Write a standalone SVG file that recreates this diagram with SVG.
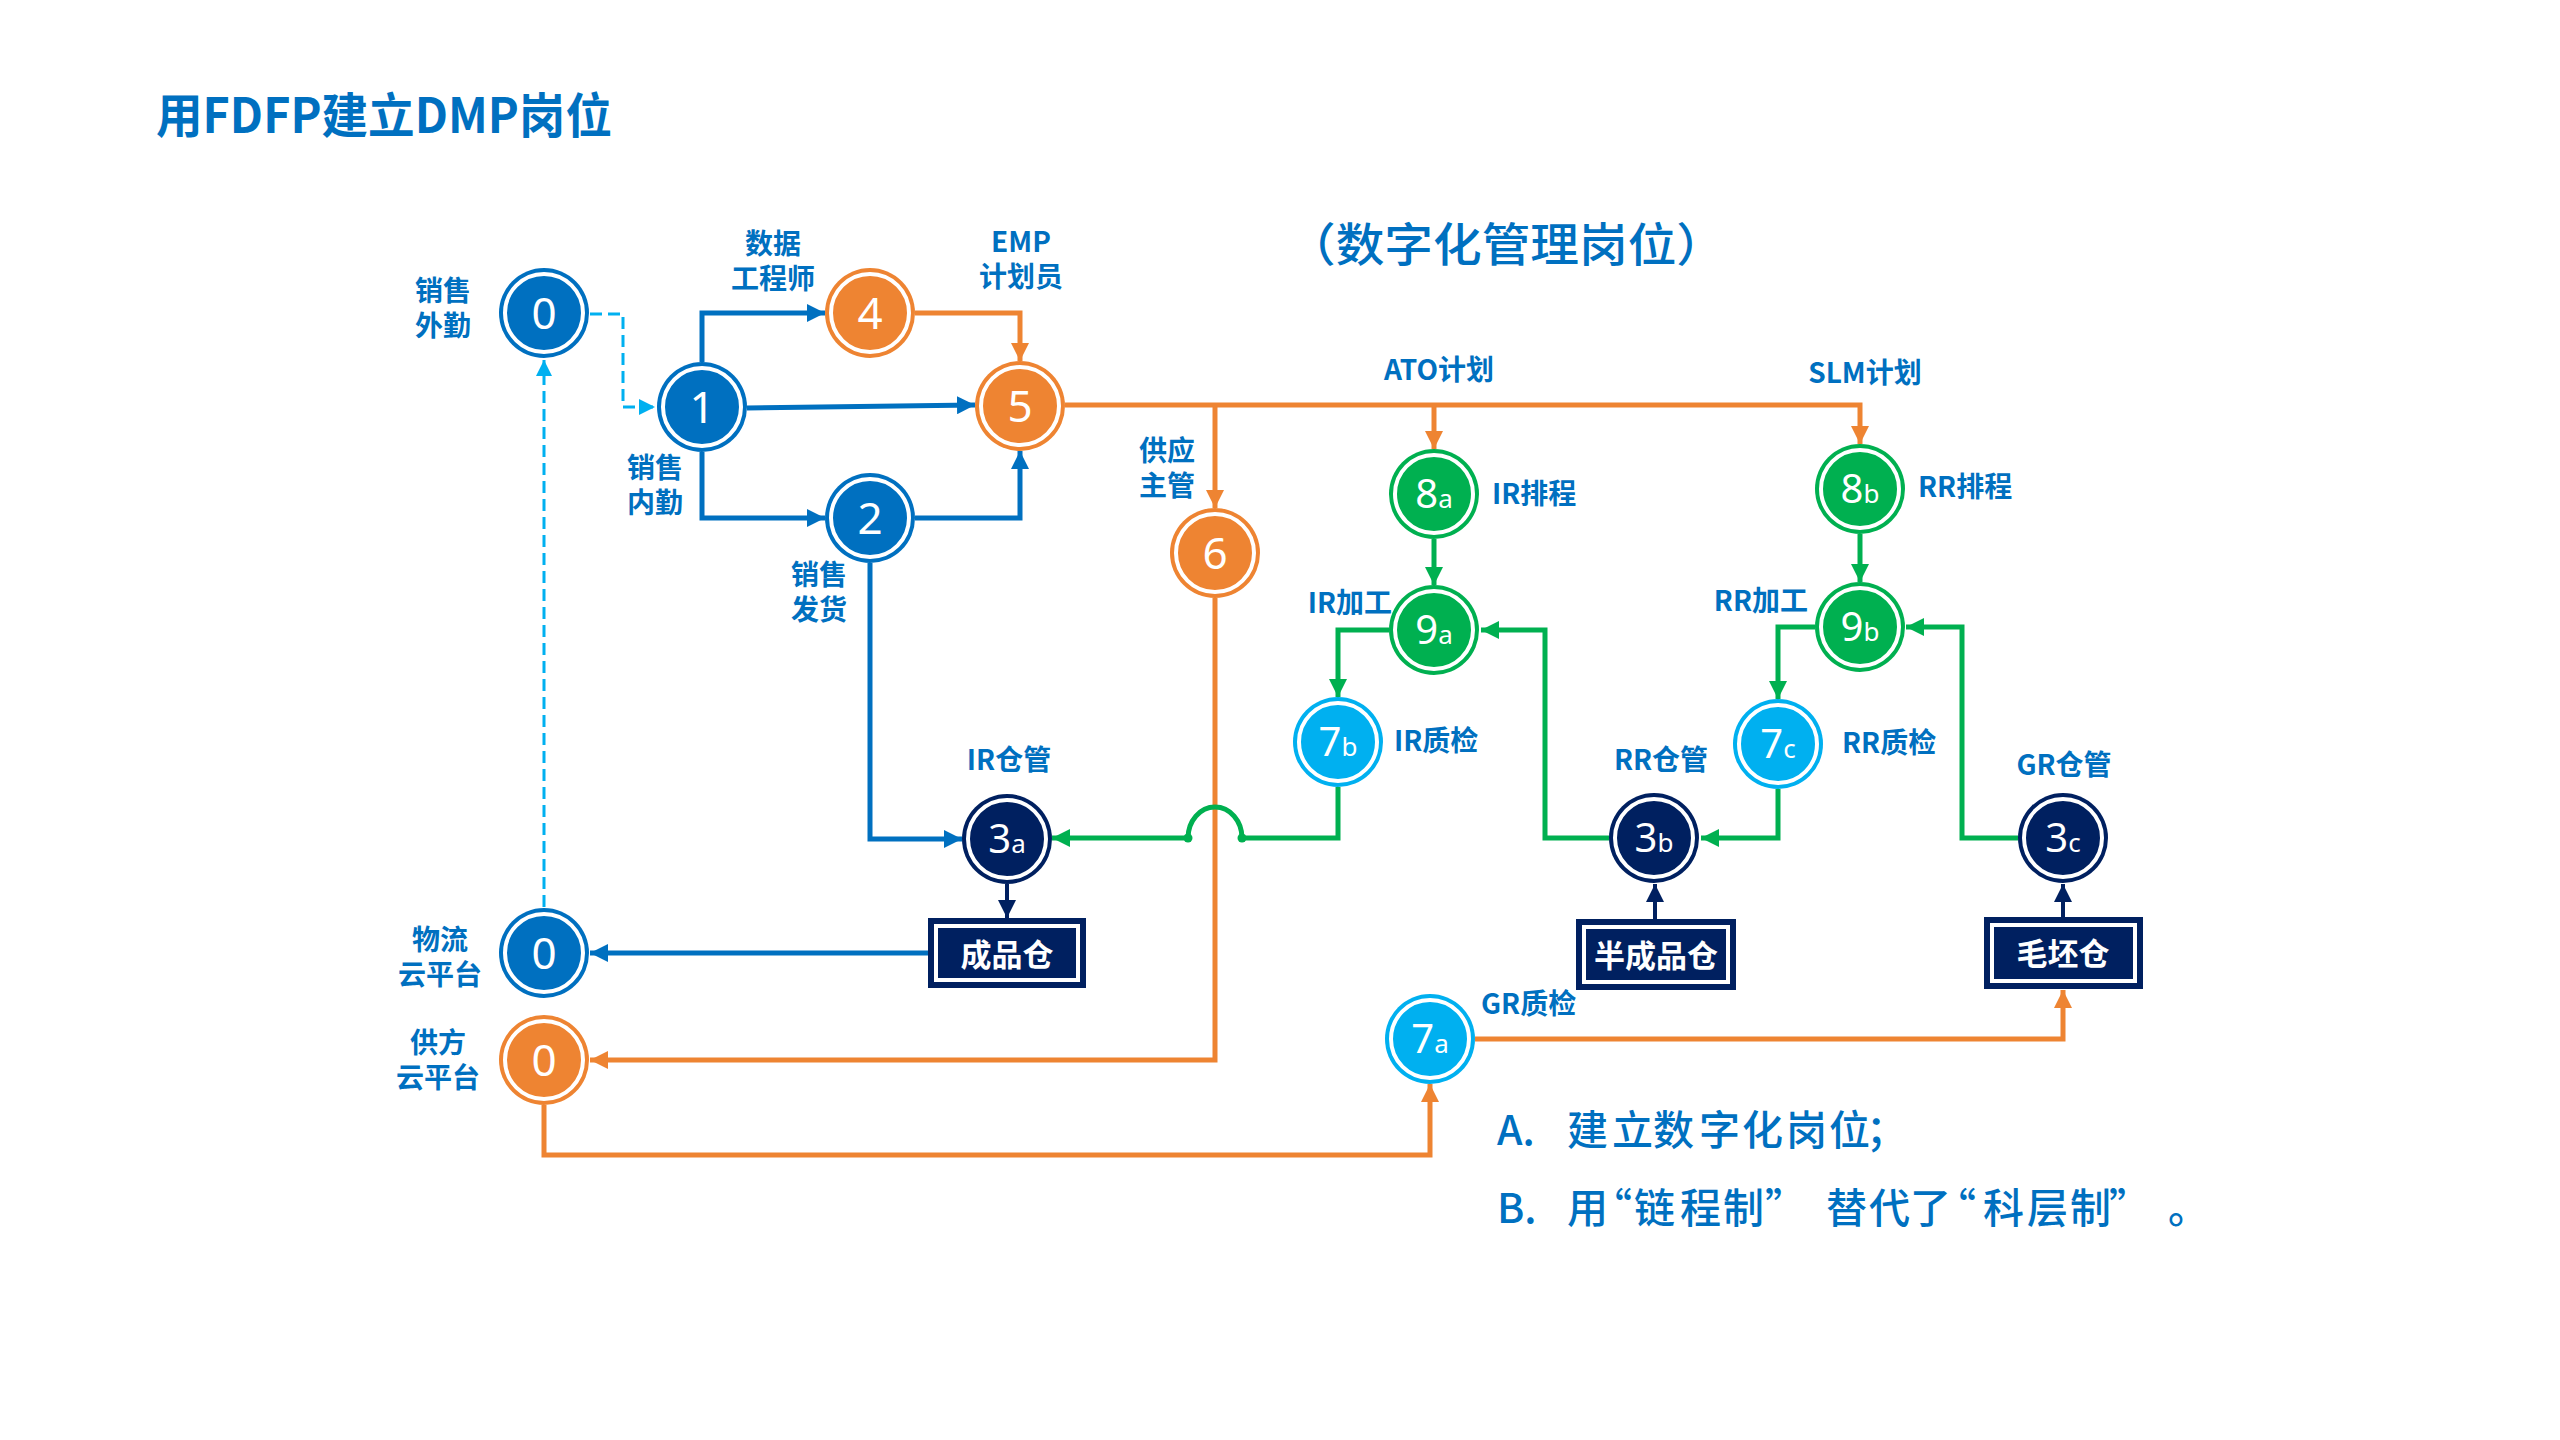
<svg xmlns="http://www.w3.org/2000/svg" width="2560" height="1440" viewBox="0 0 2560 1440">
<style>
.lbl{font-family:"Noto Sans CJK SC","Noto Sans",sans-serif;font-weight:700;font-size:28px;fill:#0070C0}
.mid{text-anchor:middle}
.end{text-anchor:end}
.num{font-family:"Noto Sans","Liberation Sans",sans-serif;fill:#fff;text-anchor:middle}
.n1{font-size:44px}
.n2{font-size:40px}
.sub{font-size:26px}
.ring{fill:none;stroke:#fff;stroke-width:4}
.box{fill:#002060}
.boxin{fill:none;stroke:#fff;stroke-width:4}
.boxt{font-family:"Noto Sans CJK SC",sans-serif;font-weight:700;font-size:31px;fill:#fff;text-anchor:middle}
.c{fill:none;stroke-linejoin:miter}
.blue{stroke:#0070C0;stroke-width:5}
.org{stroke:#EE8432;stroke-width:5}
.grn{stroke:#00B050;stroke-width:5}
.nav{stroke:#002060;stroke-width:4}
.dash{stroke:#00B0F0;stroke-width:3;stroke-dasharray:12 6}
</style>
<defs>
<marker id="aB" viewBox="0 0 18 18" refX="18" refY="9" markerWidth="18" markerHeight="18" markerUnits="userSpaceOnUse" orient="auto"><path d="M0,0L18,9L0,18z" fill="#0070C0"/></marker>
<marker id="aO" viewBox="0 0 18 18" refX="18" refY="9" markerWidth="18" markerHeight="18" markerUnits="userSpaceOnUse" orient="auto"><path d="M0,0L18,9L0,18z" fill="#EE8432"/></marker>
<marker id="aG" viewBox="0 0 18 18" refX="18" refY="9" markerWidth="18" markerHeight="18" markerUnits="userSpaceOnUse" orient="auto"><path d="M0,0L18,9L0,18z" fill="#00B050"/></marker>
<marker id="aN" viewBox="0 0 18 18" refX="18" refY="9" markerWidth="18" markerHeight="18" markerUnits="userSpaceOnUse" orient="auto"><path d="M0,0L18,9L0,18z" fill="#002060"/></marker>
<marker id="aL" viewBox="0 0 16 16" refX="16" refY="8" markerWidth="16" markerHeight="16" markerUnits="userSpaceOnUse" orient="auto"><path d="M0,0L16,8L0,16z" fill="#00B0F0"/></marker>
</defs>
<rect width="2560" height="1440" fill="#fff"/>

<text x="156" y="133" textLength="456" lengthAdjust="spacingAndGlyphs" style="font-family:'Noto Sans CJK SC',sans-serif;font-weight:700;font-size:48px;fill:#0070C0">用FDFP建立DMP岗位</text>
<text x="1287" y="261" textLength="438" lengthAdjust="spacingAndGlyphs" style="font-family:'Noto Sans CJK SC',sans-serif;font-weight:500;font-size:46px;fill:#0070C0">（数字化管理岗位）</text>

<g id="connectors">
<path class="c blue" d="M702,362V313H825" marker-end="url(#aB)"/>
<path class="c blue" d="M747,408L975,405" marker-end="url(#aB)"/>
<path class="c blue" d="M702,452V518H825" marker-end="url(#aB)"/>
<path class="c blue" d="M915,518H1020V451" marker-end="url(#aB)"/>
<path class="c blue" d="M870,563V839H962" marker-end="url(#aB)"/>
<path class="c blue" d="M928,953H590" marker-end="url(#aB)"/>
<path class="c org" d="M915,313H1020V361" marker-end="url(#aO)"/>
<path class="c org" d="M1065,405H1860V444" marker-end="url(#aO)"/>
<path class="c org" d="M1215,405V508" marker-end="url(#aO)"/>
<path class="c org" d="M1434,405V449" marker-end="url(#aO)"/>
<path class="c org" d="M1215,598V1060H590" marker-end="url(#aO)"/>
<path class="c org" d="M544,1105V1155H1430V1084" marker-end="url(#aO)"/>
<path class="c org" d="M1475,1039H2063V990" marker-end="url(#aO)"/>
<path class="c grn" d="M1434,539V585" marker-end="url(#aG)"/>
<path class="c grn" d="M1860,534V582" marker-end="url(#aG)"/>
<path class="c grn" d="M1389,630H1338V697" marker-end="url(#aG)"/>
<path class="c grn" d="M1338,787V838H1242A27,31 0 0 0 1188,838H1052" marker-end="url(#aG)"/>
<circle cx="1242" cy="838" r="4.5" fill="#00B050"/>
<circle cx="1188" cy="838" r="4.5" fill="#00B050"/>
<path class="c grn" d="M1609,838H1545V630H1481" marker-end="url(#aG)"/>
<path class="c grn" d="M1778,789V838H1701" marker-end="url(#aG)"/>
<path class="c grn" d="M1815,627H1778V699" marker-end="url(#aG)"/>
<path class="c grn" d="M2018,838H1962V627H1906" marker-end="url(#aG)"/>
<path class="c nav" d="M1007,884V918" marker-end="url(#aN)"/>
<path class="c nav" d="M1655,919V884" marker-end="url(#aN)"/>
<path class="c nav" d="M2063,917V884" marker-end="url(#aN)"/>
<path class="c dash" d="M590,314H623V407H655" marker-end="url(#aL)"/>
<path class="c dash" d="M544,907V360" marker-end="url(#aL)"/>
</g>

<g id="node-0-sales-field"><circle cx="544" cy="313" r="45" fill="#0070C0"/><circle cx="544" cy="313" r="39" class="ring"/><text x="544" y="329" class="num n1">0</text>
<text class="lbl mid"><tspan x="443" y="301">销售</tspan><tspan x="443" y="336">外勤</tspan></text></g>
<g id="node-1"><circle cx="702" cy="407" r="45" fill="#0070C0"/><circle cx="702" cy="407" r="39" class="ring"/><text x="702" y="423" class="num n1">1</text>
<text class="lbl mid"><tspan x="655" y="478">销售</tspan><tspan x="655" y="513">内勤</tspan></text></g>
<g id="node-2"><circle cx="870" cy="518" r="45" fill="#0070C0"/><circle cx="870" cy="518" r="39" class="ring"/><text x="870" y="534" class="num n1">2</text>
<text class="lbl mid"><tspan x="819" y="585">销售</tspan><tspan x="819" y="620">发货</tspan></text></g>
<g id="node-4"><circle cx="870" cy="313" r="45" fill="#EE8432"/><circle cx="870" cy="313" r="39" class="ring"/><text x="870" y="329" class="num n1">4</text>
<text class="lbl mid"><tspan x="773" y="254">数据</tspan><tspan x="773" y="289">工程师</tspan></text></g>
<g id="node-5"><circle cx="1020" cy="406" r="45" fill="#EE8432"/><circle cx="1020" cy="406" r="39" class="ring"/><text x="1020" y="422" class="num n1">5</text>
<text class="lbl mid"><tspan x="1021" y="252">EMP</tspan><tspan x="1021" y="287">计划员</tspan></text></g>
<g id="node-6"><circle cx="1215" cy="553" r="45" fill="#EE8432"/><circle cx="1215" cy="553" r="39" class="ring"/><text x="1215" y="569" class="num n1">6</text>
<text class="lbl mid"><tspan x="1167" y="461">供应</tspan><tspan x="1167" y="496">主管</tspan></text></g>
<g id="label-ato"><text x="1439" y="380" class="lbl mid">ATO计划</text></g>
<g id="label-slm"><text x="1865" y="383" class="lbl mid">SLM计划</text></g>
<g id="node-8a"><circle cx="1434" cy="494" r="45" fill="#00B050"/><circle cx="1434" cy="494" r="39" class="ring"/><text x="1434" y="508" class="num n2">8<tspan class="sub">a</tspan></text>
<text x="1492" y="504" class="lbl">IR排程</text></g>
<g id="node-9a"><circle cx="1434" cy="630" r="45" fill="#00B050"/><circle cx="1434" cy="630" r="39" class="ring"/><text x="1434" y="644" class="num n2">9<tspan class="sub">a</tspan></text>
<text x="1392" y="613" class="lbl end">IR加工</text></g>
<g id="node-8b"><circle cx="1860" cy="489" r="45" fill="#00B050"/><circle cx="1860" cy="489" r="39" class="ring"/><text x="1860" y="503" class="num n2">8<tspan class="sub">b</tspan></text>
<text x="1918" y="497" class="lbl">RR排程</text></g>
<g id="node-9b"><circle cx="1860" cy="627" r="45" fill="#00B050"/><circle cx="1860" cy="627" r="39" class="ring"/><text x="1860" y="641" class="num n2">9<tspan class="sub">b</tspan></text>
<text x="1808" y="611" class="lbl end">RR加工</text></g>
<g id="node-7b"><circle cx="1338" cy="742" r="45" fill="#00B0F0"/><circle cx="1338" cy="742" r="39" class="ring"/><text x="1338" y="756" class="num n2">7<tspan class="sub">b</tspan></text>
<text x="1394" y="751" class="lbl">IR质检</text></g>
<g id="node-7c"><circle cx="1778" cy="744" r="45" fill="#00B0F0"/><circle cx="1778" cy="744" r="39" class="ring"/><text x="1778" y="758" class="num n2">7<tspan class="sub">c</tspan></text>
<text x="1842" y="753" class="lbl">RR质检</text></g>
<g id="node-7a"><circle cx="1430" cy="1039" r="45" fill="#00B0F0"/><circle cx="1430" cy="1039" r="39" class="ring"/><text x="1430" y="1053" class="num n2">7<tspan class="sub">a</tspan></text>
<text x="1481" y="1014" class="lbl">GR质检</text></g>
<g id="node-3a"><circle cx="1007" cy="839" r="45" fill="#002060"/><circle cx="1007" cy="839" r="39" class="ring"/><text x="1007" y="853" class="num n2">3<tspan class="sub">a</tspan></text>
<text x="1009" y="770" class="lbl mid">IR仓管</text></g>
<g id="node-3b"><circle cx="1654" cy="838" r="45" fill="#002060"/><circle cx="1654" cy="838" r="39" class="ring"/><text x="1654" y="852" class="num n2">3<tspan class="sub">b</tspan></text>
<text x="1661" y="770" class="lbl mid">RR仓管</text></g>
<g id="node-3c"><circle cx="2063" cy="838" r="45" fill="#002060"/><circle cx="2063" cy="838" r="39" class="ring"/><text x="2063" y="852" class="num n2">3<tspan class="sub">c</tspan></text>
<text x="2064" y="775" class="lbl mid">GR仓管</text></g>
<g id="node-0-logistics"><circle cx="544" cy="953" r="45" fill="#0070C0"/><circle cx="544" cy="953" r="39" class="ring"/><text x="544" y="969" class="num n1">0</text>
<text class="lbl mid"><tspan x="440" y="950">物流</tspan><tspan x="440" y="985">云平台</tspan></text></g>
<g id="node-0-supplier"><circle cx="544" cy="1060" r="45" fill="#EE8432"/><circle cx="544" cy="1060" r="39" class="ring"/><text x="544" y="1076" class="num n1">0</text>
<text class="lbl mid"><tspan x="438" y="1053">供方</tspan><tspan x="438" y="1088">云平台</tspan></text></g>
<g id="box-finished"><rect x="928" y="918" width="158" height="70" class="box"/><rect x="936" y="926" width="142" height="54" class="boxin"/><text x="1007" y="966" class="boxt">成品仓</text></g>
<g id="box-semi"><rect x="1576" y="919" width="160" height="71" class="box"/><rect x="1584" y="927" width="144" height="55" class="boxin"/><text x="1656" y="967" class="boxt">半成品仓</text></g>
<g id="box-blank"><rect x="1984" y="917" width="159" height="72" class="box"/><rect x="1992" y="925" width="143" height="56" class="boxin"/><text x="2063" y="965" class="boxt">毛坯仓</text></g>

<g id="notes" style="font-family:'Noto Sans CJK SC',sans-serif;font-weight:500;font-size:41px;fill:#0070C0">
<text y="1145"><tspan x="1497">A.</tspan><tspan x="1567 1612 1653 1699 1742 1786 1829 1866">建立数字化岗位；</tspan></text>
<text y="1223"><tspan x="1497">B.</tspan><tspan x="1567 1591 1634 1680 1723 1765 1826 1869 1910 1935 1983 2027 2070 2109 2168">用“链程制”替代了“科层制”。</tspan></text>
</g>
</svg>
